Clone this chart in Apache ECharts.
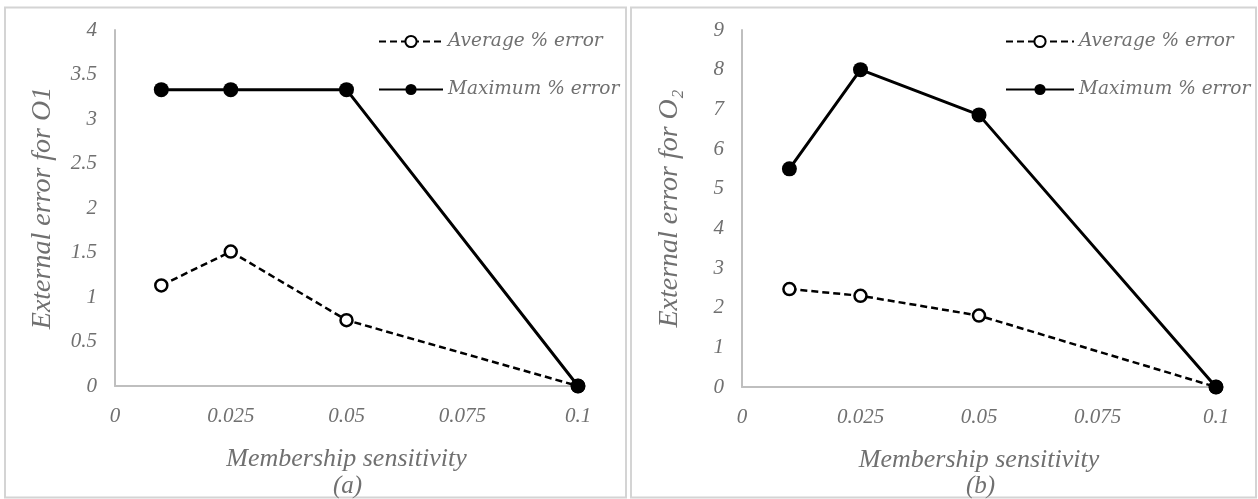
<!DOCTYPE html>
<html><head><meta charset="utf-8">
<script src="https://cdn.jsdelivr.net/npm/echarts@6/dist/echarts.min.js"></script>
<style>html,body{margin:0;padding:0;background:#fff}#c{width:1258px;height:499px}</style>
</head><body><div id="c"></div>
<script>
const xValues = [0.01, 0.025, 0.05, 0.1];
const avgA = [1.13, 1.51, 0.74, 0];
const maxA = [3.33, 3.33, 3.33, 0];
const avgB = [2.47, 2.3, 1.8, 0];
const maxB = [5.5, 8.0, 6.86, 0];
const seriesNames = ['Average % error', 'Maximum % error'];
const yNames = ['External error for O1', 'External error for O\u2082'];
const xName = 'Membership sensitivity';
const panelTags = ['(a)', '(b)'];

const FONT = 'Liberation Serif';
const TXT = '#707070';
const AX = '#bfbfbf';

function pair(data) { return xValues.map((x, i) => [x, data[i]]); }

const grids = [
  {left: 115, top: 30, width: 463, height: 356},
  {left: 742, top: 30, width: 474, height: 357}
];
const yMax = [4, 9], yInt = [0.5, 1];

const xAxes = grids.map((g, i) => ({
  type: 'value', gridIndex: i, min: 0, max: 0.1, interval: 0.025,
  axisLine: {lineStyle: {color: AX, width: 2}}, axisTick: {show: false}, splitLine: {show: false},
  axisLabel: {color: TXT, fontFamily: FONT, fontStyle: 'italic', fontSize: 21, margin: 20,
    formatter: v => String(+v.toFixed(3))},
  name: xName, nameLocation: 'middle', nameGap: 60,
  nameTextStyle: {color: TXT, fontFamily: FONT, fontStyle: 'italic', fontSize: 26}
}));
const yAxes = grids.map((g, i) => ({
  type: 'value', gridIndex: i, min: 0, max: yMax[i], interval: yInt[i],
  axisLine: {show: true, lineStyle: {color: AX, width: 2}}, axisTick: {show: false}, splitLine: {show: false},
  axisLabel: {color: TXT, fontFamily: FONT, fontStyle: 'italic', fontSize: 21, margin: 18},
  name: yNames[i], nameLocation: 'middle', nameGap: 58,
  nameTextStyle: {color: TXT, fontFamily: FONT, fontStyle: 'italic', fontSize: 28}
}));

function avgSeries(i, data) {
  return {name: seriesNames[0], type: 'line', xAxisIndex: i, yAxisIndex: i, data: pair(data),
    symbol: 'circle', symbolSize: 12, showSymbol: true,
    lineStyle: {color: '#000', width: 2.5, type: [7, 4]},
    itemStyle: {color: '#fff', borderColor: '#000', borderWidth: 2.5}, z: 2, animation: false};
}
function maxSeries(i, data) {
  return {name: seriesNames[1], type: 'line', xAxisIndex: i, yAxisIndex: i, data: pair(data),
    symbol: 'circle', symbolSize: 15, showSymbol: true,
    lineStyle: {color: '#000', width: 3},
    itemStyle: {color: '#000', borderColor: '#000', borderWidth: 0}, z: 3, animation: false};
}

const legendText = {color: TXT, fontFamily: 'DejaVu Serif', fontStyle: 'italic', fontSize: 18.5};
const option = {
  backgroundColor: '#fff',
  animation: false,
  grid: grids,
  xAxis: xAxes,
  yAxis: yAxes,
  legend: [
    {left: 373, top: 27, orient: 'vertical', itemGap: 29, itemWidth: 64, itemHeight: 14,
     textStyle: legendText, data: seriesNames},
    {left: 1000, top: 27, orient: 'vertical', itemGap: 29, itemWidth: 68, itemHeight: 14,
     textStyle: legendText, data: seriesNames}
  ],
  series: [avgSeries(0, avgA), maxSeries(0, maxA), avgSeries(1, avgB), maxSeries(1, maxB)],
  graphic: [
    {type: 'rect', shape: {x: 5, y: 7.5, width: 621, height: 490}, style: {fill: 'none', stroke: '#d4d4d4', lineWidth: 2}, silent: true},
    {type: 'rect', shape: {x: 631, y: 7.5, width: 625, height: 490}, style: {fill: 'none', stroke: '#d4d4d4', lineWidth: 2}, silent: true},
    {type: 'text', left: 333, top: 474, style: {text: panelTags[0], fill: TXT, font: 'italic 25px "Liberation Serif"'}},
    {type: 'text', left: 966, top: 474, style: {text: panelTags[1], fill: TXT, font: 'italic 25px "Liberation Serif"'}}
  ]
};
const chart = echarts.init(document.getElementById('c'), null, {renderer: 'canvas'});
chart.setOption(option);
</script></body></html>
